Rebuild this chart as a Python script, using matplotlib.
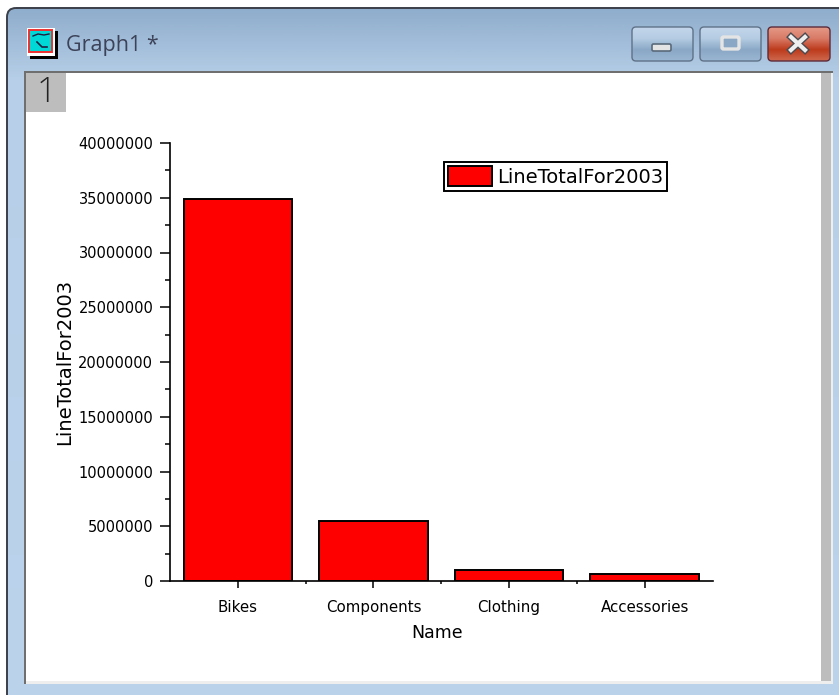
import numpy as np
import matplotlib
matplotlib.use("Agg")
import matplotlib.pyplot as plt
from matplotlib.patches import FancyBboxPatch, Rectangle
from matplotlib.ticker import StrMethodFormatter

names = ["Bikes", "Components", "Clothing", "Accessories"]
line_totals = [34900000, 5480000, 1030000, 650000]
y_ticks = [0, 5000000, 10000000, 15000000, 20000000, 25000000, 30000000, 35000000, 40000000]
series_name = "LineTotalFor2003"

W, H = 839, 695
fig = plt.figure(figsize=(W / 100, H / 100), dpi=100, facecolor="white")

# window chrome, in pixel coordinates
bg = fig.add_axes([0, 0, 1, 1], zorder=0)
bg.set_xlim(0, W)
bg.set_ylim(H, 0)
bg.axis("off")


def gradient_box(x, y, w, h, stops, edge=None, pad=3, lw=1.0):
    patch = FancyBboxPatch((x, y), w, h, boxstyle=f"round,pad=0,rounding_size={pad}",
                           fc="none", ec=edge if edge else "none", lw=lw, zorder=3)
    bg.add_patch(patch)
    cmap = matplotlib.colors.LinearSegmentedColormap.from_list("g", stops)
    im = bg.imshow(np.linspace(0, 1, 1024).reshape(-1, 1), cmap=cmap, aspect="auto",
                   extent=[x, x + w, y + h, y], zorder=2)
    im.set_clip_path(patch)
    return patch


gradient_box(7, 8, W - 7 + 10, H - 8 + 20, [(0, "#8fadcc"), (0.1, "#b7cfe8"), (1, "#bcd3ec")],
             edge="#3a3f48", pad=9, lw=1.4)
bg.add_patch(Rectangle((24, 71), 809, 613, fc="#eeeeee", ec="none", zorder=4))
bg.add_patch(Rectangle((24, 71), 809, 2, fc="#6f6f6f", ec="none", zorder=6))
bg.add_patch(Rectangle((24, 71), 2, 613, fc="#6f6f6f", ec="none", zorder=6))
bg.add_patch(Rectangle((26, 73), 795, 608, fc="white", ec="none", zorder=5))
bg.add_patch(Rectangle((821, 73), 10, 608, fc="#bdbdbd", ec="none", zorder=5))
bg.add_patch(Rectangle((26, 73), 40, 39, fc="#bdbdbd", ec="none", zorder=6))
bg.text(47, 93, "1", fontsize=25, family="Open Sans", fontweight="light", color="#222222",
        ha="center", va="center", zorder=7)

# title bar
bg.add_patch(Rectangle((30, 31), 28, 28, fc="black", ec="none", zorder=4))
bg.add_patch(Rectangle((27, 28), 28, 28, fc="white", ec="none", zorder=5))
bg.add_patch(Rectangle((29, 30), 23, 22, fc="#00d8d8", ec="#f03030", lw=1.4, zorder=6))
bg.plot([37, 42, 47], [42, 47, 47], color="#202040", lw=1.2, zorder=7)
bg.plot([33, 38, 44, 49], [36, 34, 35, 34], color="#202040", lw=1, zorder=7)
bg.text(66, 45, "Graph1 *", fontsize=15.5, family="Open Sans", color="#3c4258", ha="left", va="center", zorder=7)

blue = ["#c3d6ea", "#b5cce3", "#8aa8c6", "#9ab6d2"]
gradient_box(632, 27, 61, 34, blue, edge="#5f7288", pad=4)
gradient_box(700, 27, 61, 34, blue, edge="#5f7288", pad=4)
gradient_box(768, 27, 62, 34, ["#e39a88", "#d97a66", "#bd3b1c", "#cf6a50"], edge="#5c2b3a", pad=4)
bg.add_patch(FancyBboxPatch((652, 44), 19, 7, boxstyle="round,pad=0,rounding_size=1.5",
                            fc="#e4e4e4", ec="#5a6a7a", lw=1.2, zorder=6))
bg.add_patch(FancyBboxPatch((722, 37), 17, 12, boxstyle="round,pad=0,rounding_size=1.5",
                            fc="#8aa8c6", ec="#e4e4e4", lw=2.4, zorder=6))
bg.plot([791, 805], [37, 50], color="#4a4a50", lw=5, zorder=6)
bg.plot([791, 805], [50, 37], color="#4a4a50", lw=5, zorder=6)
bg.plot([791, 805], [37, 50], color="#eeeeee", lw=3, zorder=7)
bg.plot([791, 805], [50, 37], color="#eeeeee", lw=3, zorder=7)
bg.set_xlim(0, W)
bg.set_ylim(H, 0)

# the graph itself
ax = fig.add_axes([170 / W, (H - 581) / H, 542.5 / W, 438 / H], zorder=1)
ax.patch.set_alpha(0)
x = np.arange(len(names))
ax.bar(x, line_totals, width=0.8, color="#ff0000", edgecolor="black", linewidth=1.4, label=series_name)

ax.set_xlim(-0.5, 3.5)
ax.set_ylim(0, 40000000)
ax.set_xticks(x)
ax.set_xticklabels(names)
ax.set_xticks(x[:-1] + 0.5, minor=True)
ax.set_yticks(y_ticks)
ax.set_yticks(np.array(y_ticks[:-1]) + 2500000, minor=True)
ax.yaxis.set_major_formatter(StrMethodFormatter("{x:.0f}"))

ax.spines["top"].set_visible(False)
ax.spines["right"].set_visible(False)
ax.spines["left"].set_linewidth(1.2)
ax.spines["bottom"].set_linewidth(1.2)
ax.tick_params(axis="y", which="major", length=7, width=1.1, pad=5, labelsize=10.5)
ax.tick_params(axis="y", which="minor", length=3.5, width=1.1)
ax.tick_params(axis="x", which="major", length=5, width=1.1, pad=9, labelsize=10.8)
ax.tick_params(axis="x", which="minor", length=2, width=1.1)

ax.set_xlabel("Name", fontsize=12.5)
ax.xaxis.set_label_coords((437 - 170) / 542.5, -(633 - 581) / 438, transform=ax.transAxes)
ax.xaxis.label.set_va("center")
ax.set_ylabel(series_name, fontsize=14)
ax.yaxis.set_label_coords((65 - 170) / 542.5, (581 - 362) / 438, transform=ax.transAxes)
ax.yaxis.label.set_va("center")

leg = ax.legend(loc="center", bbox_to_anchor=(555.5 / W, (H - 176.5) / H), bbox_transform=fig.transFigure,
                fontsize=14, fancybox=False, framealpha=1, edgecolor="black",
                handlelength=2.27, handleheight=1.2, handletextpad=0.25, borderpad=0.2, borderaxespad=0)
leg.get_frame().set_linewidth(1.4)

fig.savefig("out.png", dpi=100)
